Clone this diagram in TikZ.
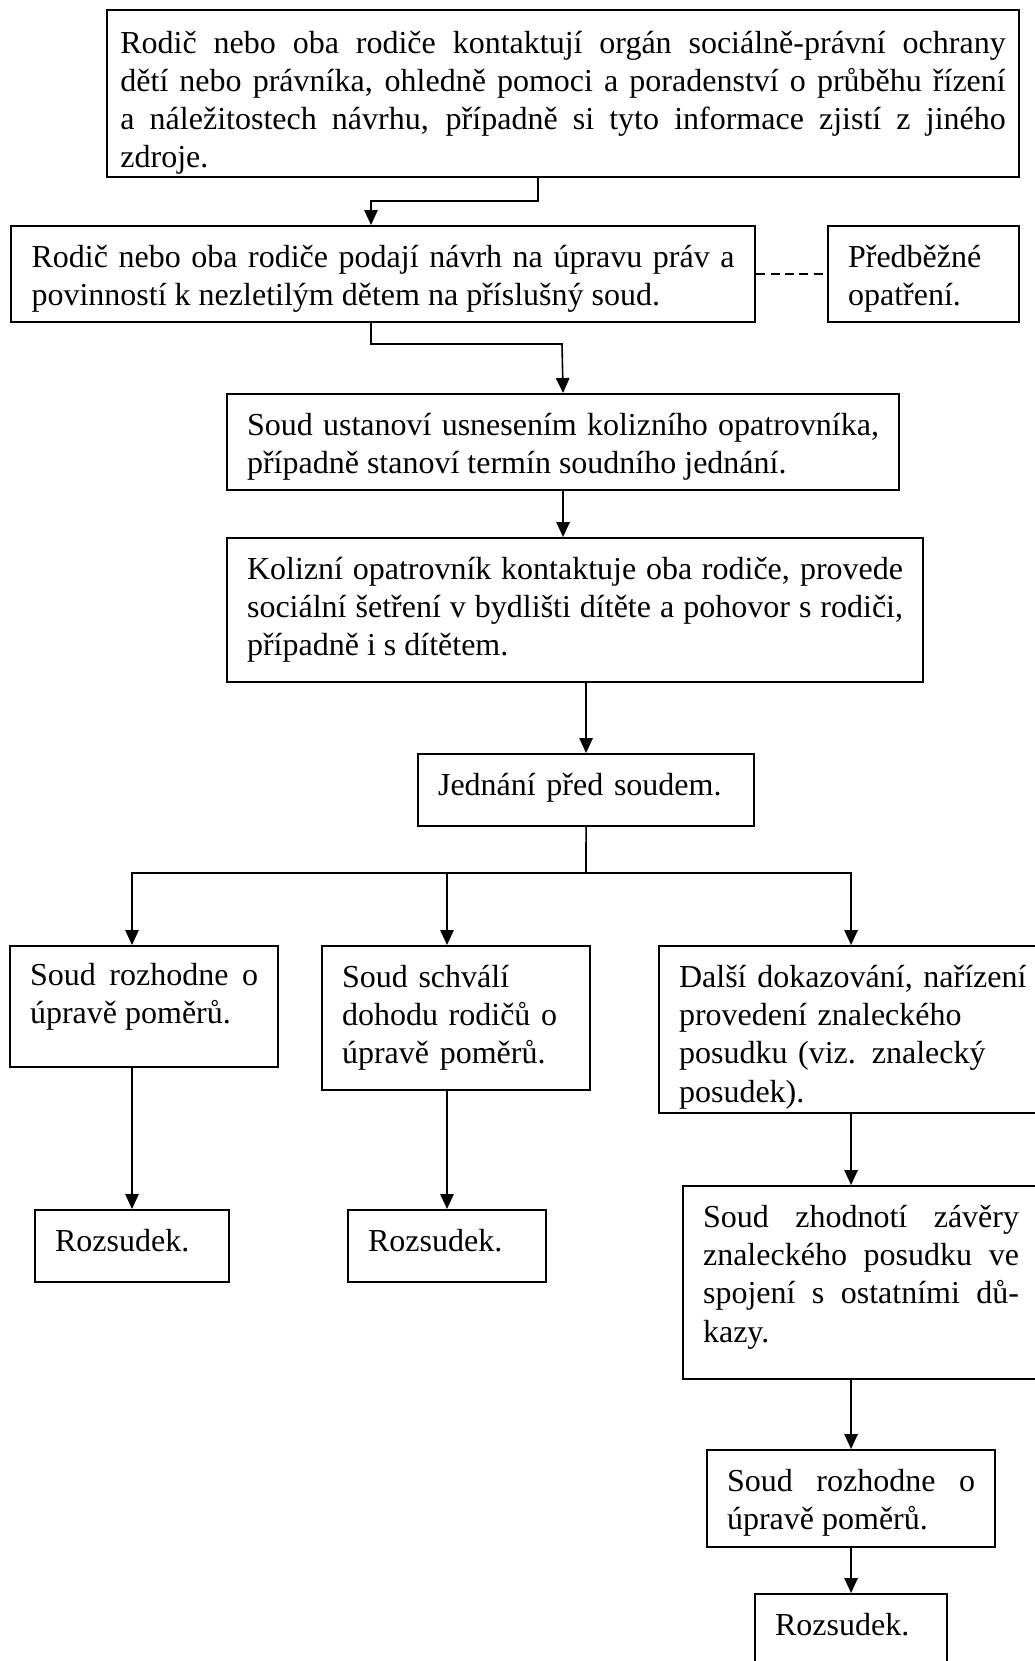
\documentclass[tikz,border=0pt]{standalone}
\usepackage{fontspec}
\setmainfont{Liberation Serif}
\usetikzlibrary{arrows.meta}
\hyphenpenalty=10000
\exhyphenpenalty=10000

\tikzset{
  box/.style={draw, line width=0.8pt, anchor=north west, inner xsep=7.5pt, inner ysep=0pt,
    text height=15.6pt, align=justify, font=\fontsize{12pt}{14.3pt}\selectfont},
  leftbox/.style={box, align=left},
  arrow/.style={-{Triangle[length=5.6pt,width=5pt]}, line width=0.6pt},
  link/.style={line width=0.6pt},
}

\begin{document}
\begin{tikzpicture}[x=0.375pt, y=-0.375pt]
  \useasboundingbox (0,0) rectangle (1035,1661);

  % First steps of the parents
  \node[box, inner xsep=5pt, text width=332pt, text height=16.2pt, text depth=46.4pt] (contact) at (106,9)
    {Rodič nebo oba rodiče kontaktují orgán sociálně-právní ochrany\linebreak
     dětí nebo právníka, ohledně pomoci a poradenství o průběhu řízení\linebreak
     a náležitostech návrhu, případně si tyto informace zjistí z~jiného\linebreak
     zdroje.};
  \node[box, inner xsep=7.7pt, text width=263.6pt, text depth=20.4pt] (filing) at (10,225)
    {Rodič nebo oba rodiče podají návrh na úpravu práv a\linebreak
     povinností k nezletilým dětem na příslušný soud.};
  \node[leftbox, text width=56.6pt, text depth=20.4pt] (interim) at (827,225)
    {Předběžné\\ opatření.};

  % Court and guardian
  \node[box, text width=237pt, text depth=20.4pt] (appoint) at (226,393)
    {Soud ustanoví usnesením kolizního opatrovníka,\linebreak
     případně stanoví termín soudního jednání.};
  \node[box, text width=246pt, text depth=38.4pt] (guardian) at (226,537)
    {Kolizní opatrovník kontaktuje oba rodiče, provede\linebreak
     sociální šetření v bydlišti dítěte a pohovor s rodiči,\linebreak
     případně i s dítětem.};
  \node[leftbox, text width=111pt, text depth=11.4pt] (hearing) at (417,753)
    {Jednání před soudem.};

  % Three outcomes of the hearing
  \node[box, text width=85.5pt, text height=14.7pt, text depth=30.7pt] (decideA) at (9,945)
    {Soud rozhodne o\linebreak úpravě poměrů.};
  \node[leftbox, text width=85.5pt, text depth=38.4pt] (approve) at (321,945)
    {Soud schválí\\ dohodu rodičů o\\ úpravě poměrů.};
  \node[leftbox, text width=136pt, text depth=47pt] (further) at (658,945)
    {Další dokazování, nařízení\\ provedení znaleckého\\ posudku (viz. znalecký\\ posudek).};

  \node[leftbox, text width=57.7pt, text depth=11.4pt] (verdictA) at (34,1209) {Rozsudek.};
  \node[leftbox, text width=59.2pt, text depth=11.4pt] (verdictB) at (347,1209) {Rozsudek.};

  % Expert opinion branch
  \node[box, text width=118.5pt, text depth=56.8pt] (assess) at (682,1185)
    {Soud zhodnotí závěry\linebreak znaleckého posudku ve\linebreak
     spojení s~ostatními dů-\linebreak kazy.};
  \node[box, text width=93pt, text depth=20.8pt] (decideB) at (706,1449)
    {Soud rozhodne o\linebreak úpravě poměrů.};
  \node[leftbox, text width=57pt, text depth=11.4pt] (verdictC) at (754,1593) {Rozsudek.};

  % Connectors
  \coordinate (b1) at (538,201);
  \coordinate (b2) at (371,201);
  \coordinate (b3) at (562,344);
  \coordinate (split) at (586,873);

  \draw[arrow] (contact.south -| b1) -- (b1) -- (b2) -- (filing.north -| b2);
  \draw[link, dash pattern=on 3.4pt off 2pt] (filing.east) -- (interim.west);
  \draw[arrow] (filing.south -| b2) |- (b3) -- (appoint.north);
  \draw[arrow] (appoint.south) -- (appoint.south |- guardian.north);
  \draw[arrow] (guardian.south -| hearing.north) -- (hearing.north);

  \draw[link] (hearing.south) -- (split);
  \draw[arrow] (split) -| (decideA.north -| verdictA.north);
  \draw[arrow] (split) -| (approve.north -| verdictB.north);
  \draw[arrow] (split) -| (further.north -| decideB.north);

  \draw[arrow] (verdictA.north |- decideA.south) -- (verdictA.north);
  \draw[arrow] (verdictB.north |- approve.south) -- (verdictB.north);
  \draw[arrow] (further.south -| decideB.north) -- (decideB.north |- assess.north);
  \draw[arrow] (decideB.north |- assess.south) -- (decideB.north);
  \draw[arrow] (decideB.south) -- (verdictC.north);
\end{tikzpicture}
\end{document}
